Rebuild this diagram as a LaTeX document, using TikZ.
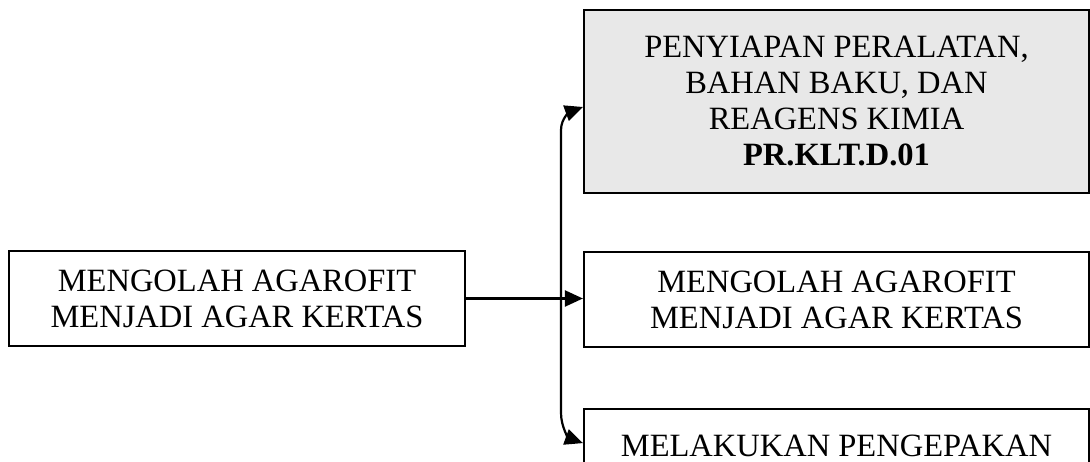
\documentclass[tikz,border=0pt]{standalone}
\usepackage{fontspec}
\setmainfont{Liberation Serif}
\usetikzlibrary{arrows.meta}

\tikzset{
    kotak/.style={draw, line width=2.2pt, align=center, inner sep=0pt,
        font=\fontsize{32.5}{36}\selectfont},
    panah/.style={line width=2.2pt, -{Triangle[length=18pt, width=16pt]}}
}

\begin{document}
\begin{tikzpicture}[x=1pt, y=1pt]

    % Fix the page size
    \useasboundingbox (0,0) rectangle (1090,462);
    \clip (0,0) rectangle (1090,462);

    % Draw main process box
    \node[kotak, minimum width=456pt, minimum height=95pt] (proses) at (237,163.5)
        {MENGOLAH AGAROFIT\\MENJADI AGAR KERTAS};

    % Draw preparation box (shaded)
    \node[kotak, fill=black!9, minimum width=505pt, minimum height=183pt] (persiapan) at (836.5,360.5)
        {PENYIAPAN PERALATAN,\\BAHAN BAKU, DAN\\REAGENS KIMIA\\\textbf{PR.KLT.D.01}};

    % Draw processing box
    \node[kotak, minimum width=505pt, minimum height=95pt] (olah) at (836.5,162.5)
        {MENGOLAH AGAROFIT\\MENJADI AGAR KERTAS};

    % Draw packing box, cut off by the page edge
    \node[kotak, minimum width=505pt, text height=47pt, text depth=21pt, anchor=north] (kemas) at (836.5,54)
        {MELAKUKAN PENGEPAKAN};

    % Branch point on the vertical line
    \coordinate (cabang) at (561,163.5);

    % Draw arrow to the processing box
    \draw[panah] (proses.east) -- (proses.east -| olah.west);

    % Draw branch up to the preparation box
    \draw[panah] (cabang) -- (561,332) to[out=90, in=200] ([yshift=-5.5pt]persiapan.west);

    % Draw branch down to the packing box
    \draw[panah] (cabang) -- (561,49) to[out=-90, in=160] (kemas.west);
\end{tikzpicture}
\end{document}
